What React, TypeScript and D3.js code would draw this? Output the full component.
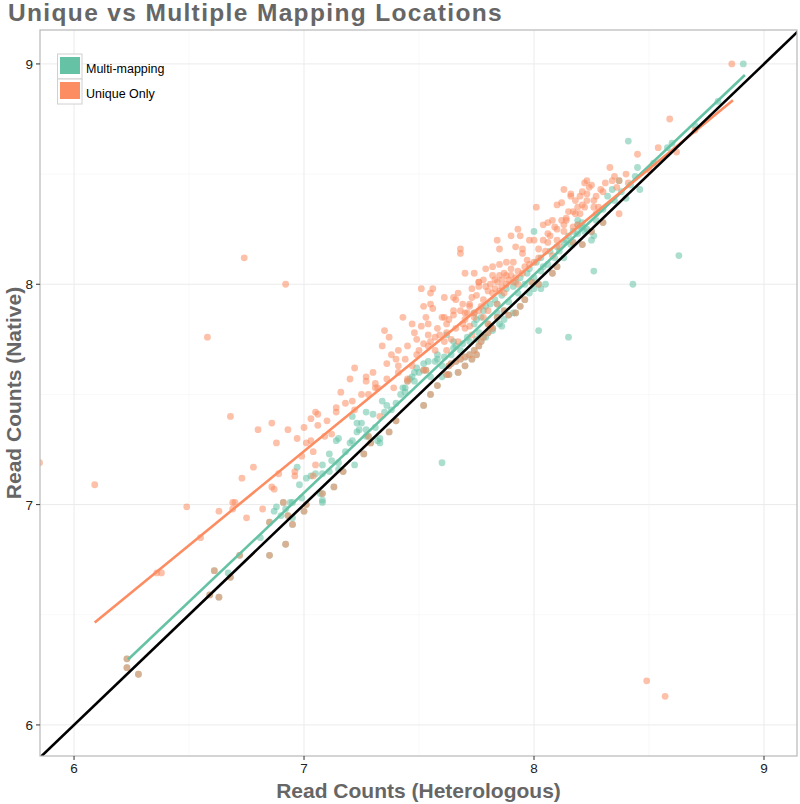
import React from "react";
import * as d3 from "d3";

type P = [number, number];

// Unique-only reads (orange)
const uniquePts: P[] = [
  [5.85,7.19],[6.09,7.09],[6.58,7.76],[6.74,8.12],[6.92,8.00],[8.49,6.20],[8.57,6.13],
  [6.68,7.40],[6.86,7.37],[6.80,7.34],[6.93,7.34],[6.97,7.30],[6.88,7.28],[6.78,7.17],[6.73,7.12],[6.89,7.14],[6.96,7.15],[6.96,7.13],[6.86,7.08],[6.87,7.07],[6.49,6.99],[6.69,7.01],[6.70,7.01],[6.63,6.97],[6.69,6.98],[6.82,6.98],[6.75,6.94],[6.55,6.85],[6.36,6.69],[6.38,6.69],
  [7.05,7.42],[7.06,7.41],[7.03,7.39],[7.06,7.36],[7.14,7.42],[7.12,7.32],[7.09,7.31],[7.01,7.28],[7.03,7.29],[7.04,7.24],[7.05,7.18],[7.04,7.13],
  [7.52,7.90],[7.55,7.91],[7.56,7.89],[7.65,7.88],[7.65,7.86],[7.43,7.85],[7.53,7.85],[7.60,7.85],[7.47,7.82],[7.51,7.81],[7.54,7.82],[7.62,7.82],[7.35,7.79],[7.37,7.76],[7.48,7.78],[7.49,7.75],[7.54,7.77],[7.57,7.76],[7.59,7.77],[7.64,7.75],[7.34,7.72],[7.52,7.73],[7.54,7.72],[7.41,7.70],[7.49,7.68],[7.40,7.66],[7.44,7.66],[7.36,7.64],[7.41,7.63],[7.41,7.60],[7.22,7.62],[7.20,7.57],[7.27,7.58],[7.27,7.56],[7.31,7.55],[7.36,7.57],[7.45,7.57],[7.31,7.53],[7.32,7.53],[7.16,7.51],[7.28,7.50],[7.21,7.47],[7.22,7.43],[7.14,7.44],[7.33,7.40],
  [7.51,7.98],[7.55,7.96],[7.56,7.98],[7.61,7.94],[7.65,7.94],[7.67,7.96],[7.66,7.93],[7.73,7.98],[7.73,7.94],[7.76,8.01],[7.76,7.99],[7.69,7.91],[7.72,7.90],[7.70,7.87],[7.76,7.88],[7.61,7.85],[7.62,7.78],[7.61,7.74],
  [8.22,8.46],[8.13,8.43],[8.21,8.42],[8.23,8.41],[8.16,8.41],[8.16,8.40],[8.12,8.37],[8.10,8.36],[8.19,8.35],[8.21,8.36],[8.22,8.35],[8.17,8.33],[8.01,8.35],[8.06,8.28],[8.08,8.29],[8.12,8.29],[8.14,8.30],[8.04,8.27],[8.09,8.26],[8.06,8.23],[7.93,8.25],[7.90,8.22],[7.84,8.20],[7.85,8.16],[7.94,8.22],[7.98,8.20],[8.00,8.20],[8.06,8.19],[8.11,8.17],[7.68,8.16],[7.68,8.14],[7.92,8.17],[7.95,8.16],[7.95,8.14],[7.88,8.10],[7.91,8.10],[7.97,8.11],[7.85,8.09],[7.82,8.08],[7.79,8.07],[7.74,8.05],[7.70,8.05],[7.82,8.04],[7.87,8.05],[7.90,8.07],[7.90,8.04],[7.86,8.02],[7.84,8.01],[7.88,8.00],[7.78,8.02],[7.76,8.01],[7.72,7.91],[7.77,7.90],[7.71,7.87],[7.69,7.82],[7.74,7.85],[7.72,7.81],
  [8.59,8.75],[8.54,8.62],[8.45,8.59],[8.33,8.53],[8.35,8.49],[8.34,8.47],[8.23,8.47],[8.25,8.45],[8.29,8.43],[8.30,8.42],[8.23,8.38],[8.26,8.38],[8.26,8.35],[8.28,8.35],[8.18,8.32],[8.20,8.32],[8.27,8.32],[8.37,8.32],[8.14,8.29],[8.17,8.26],[8.13,8.24],[8.41,8.46],
  [8.86,9.00],[8.50,8.52],[8.62,8.60],[8.70,8.70],
  [7.80,7.97],[7.83,7.98],[7.86,7.99],[7.89,8.02],[7.92,8.03],[7.81,8.00],[7.85,8.04],[7.93,8.06],[7.96,8.08],
  [7.66,7.80],[7.70,7.84],[7.78,7.93],[7.80,7.88],
  [8.02,8.12],[8.05,8.15],[8.08,8.13],[8.10,8.20],[8.00,8.10],
  [7.45,7.72],[7.50,7.70],[7.55,7.74],[7.58,7.80],[7.63,7.84],[7.68,7.88],[7.75,7.95],[7.79,7.99],[7.82,7.96],[7.85,7.97],[7.87,7.96],[7.83,8.02],[7.88,8.04],[7.91,8.01],[7.93,8.00],[7.95,8.05],[7.98,8.09],[8.02,8.16],[8.04,8.20],[8.07,8.22],[8.10,8.25],[8.13,8.27],[8.15,8.33],[8.18,8.38],[8.20,8.40],[8.24,8.44],[8.27,8.40],[8.31,8.46],[8.36,8.44],[8.40,8.50],
  [7.38,7.68],[7.30,7.60],[7.25,7.50],[7.18,7.46],[7.10,7.38],[7.00,7.35],[6.99,7.22],[7.39,7.53],[7.47,7.63],[7.57,7.70],[7.70,7.80],[7.73,7.77],[7.78,7.85],[7.80,7.82],[7.67,7.74],[7.62,7.70]
];

// Multi-mapping reads (teal)
const multiPts: P[] = [
  [6.97,7.17],[6.98,7.09],[6.88,6.99],[6.87,6.97],[6.94,7.01],[6.92,6.98],[6.81,6.85],[6.67,6.69],
  [7.14,7.29],[7.01,7.12],[7.03,7.13],[7.08,7.14],[7.11,7.15],[7.15,7.16],[7.08,7.01],
  [7.62,7.77],[7.65,7.74],[7.66,7.72],[7.58,7.68],[7.58,7.66],[7.57,7.65],[7.52,7.64],[7.49,7.62],[7.48,7.60],[7.60,7.58],[7.47,7.58],[7.48,7.56],[7.43,7.53],[7.44,7.53],[7.44,7.51],[7.42,7.50],[7.34,7.47],[7.38,7.43],[7.35,7.42],[7.27,7.42],[7.30,7.41],[7.21,7.40],[7.25,7.37],[7.23,7.37],[7.27,7.34],[7.24,7.34],[7.23,7.33],[7.15,7.30],[7.21,7.29],[7.20,7.28],[7.33,7.30],[7.32,7.29],[7.27,7.31],
  [8.02,7.79],[8.00,7.98],[8.03,7.98],[8.05,8.00],[7.86,7.81],[7.82,7.79],[7.79,7.76],[7.75,7.75],[7.71,7.76],[7.69,7.73],[7.65,7.71],[7.61,7.67],[7.54,7.65],[7.50,7.60],[7.46,7.57],[7.60,7.19],[7.11,7.23],[7.08,7.18],[7.05,7.14],[7.07,7.05],[7.08,7.02],[6.95,7.01],[6.95,6.94],[7.22,7.18],[7.15,7.19],[7.33,7.28],
  [8.00,8.24],[8.19,8.29],[8.21,8.28],[8.20,8.26],[8.23,8.25],[8.17,8.24],[8.15,8.22],[8.13,8.19],[8.10,8.17],[8.13,8.12],[8.07,8.15],[8.03,8.12],[8.01,8.10],[7.98,8.07],[7.97,8.05],[7.94,8.03],[7.92,8.01],[7.91,7.99],[7.88,7.98],[7.98,7.96],[7.86,7.95],[7.83,7.93],[7.81,7.91],[7.79,7.90],[7.78,7.88],[7.77,7.85],[7.75,7.84],[7.74,7.82],[7.87,7.84],[7.85,7.82],[7.91,7.87],[8.04,8.08],
  [8.41,8.65],[8.63,8.13],[8.43,8.00],[8.26,8.06],[8.15,7.76],[8.46,8.43],[8.45,8.53],[8.26,8.22],[8.25,8.20],
  [8.58,8.62],[8.44,8.49],[8.34,8.43],[8.32,8.40],[8.40,8.39],[8.21,8.26],[8.19,8.23],[8.14,8.20],
  [8.91,9.00],[8.52,8.55],[8.60,8.64],[8.70,8.72],[8.80,8.83],
  [7.55,7.58],[7.60,7.63],[7.64,7.68],[7.68,7.70],[7.72,7.74],[7.76,7.78],[7.80,7.82],[7.84,7.87],[7.89,7.92],[7.93,7.96],[7.96,8.00],[8.00,8.03],[8.03,8.06],[8.06,8.09],[8.09,8.12],[8.11,8.15],[8.16,8.18],[8.22,8.24],[8.27,8.29],[8.30,8.34],[8.35,8.38],[8.38,8.42],[8.42,8.45],[7.40,7.46],[7.36,7.45],[7.31,7.35],[7.18,7.24],[7.12,7.20],[6.99,7.03],[6.90,6.95]
];

// Genes present in both sets at the same position
const sharedPts: P[] = [
  [6.91,7.01],[6.85,6.92],[6.93,6.95],[6.95,6.91],[6.92,6.82],[6.85,6.77],[6.72,6.77],[6.61,6.70],[6.68,6.67],
  [6.23,6.30],[6.23,6.26],[6.28,6.23],[6.59,6.59],[6.63,6.58],
  [7.00,6.97],[7.01,7.00],[7.08,7.05],[7.13,7.08],
  [7.52,7.45],[7.58,7.54],[7.53,7.61],[7.63,7.59],[7.64,7.64],[7.45,7.56],[7.37,7.33],[7.29,7.28],[7.26,7.23],[7.28,7.31],
  [7.66,7.65],[7.68,7.66],[7.70,7.67],[7.72,7.68],[7.74,7.70],[7.73,7.66],[7.76,7.72],[7.77,7.74],[7.63,7.63],[7.62,7.59],[7.17,7.15],[7.81,7.81],[7.84,7.85],[7.87,7.88],[7.92,7.87],[7.94,7.90],[7.52,7.61],
  [8.17,8.19],[8.21,8.18],[8.08,8.05],[7.99,8.01],[7.74,7.87],[7.84,7.91],
  [8.37,8.47],[8.19,8.27],
  [7.78,7.76],[7.80,7.78],[7.70,7.63],[7.75,7.68],[7.67,7.60],[7.82,7.80],[7.89,7.86],[7.96,7.93],[8.02,8.00],[8.10,8.08],[8.25,8.24],[8.30,8.28],[7.55,7.50],[7.40,7.38]
];

// Linear fit endpoints
const uniqueFit: P[] = [[6.09, 6.465], [8.865, 8.835]];
const multiFit: P[] = [[6.235, 6.297], [8.917, 8.95]];

const ticks = [6, 7, 8, 9];
const minorTicks = [5.5, 6.5, 7.5, 8.5, 9.5];

const seriesNames = ["Multi-mapping", "Unique Only"];
const seriesColors = ["#66c2a5", "#fc8d62"];

export default function App() {
  const W = 800, H = 804;
  const L = 40, R = 797, T = 30, B = 756;
  const x = d3.scaleLinear().domain([5.852, 9.1435]).range([L, R]);
  const y = d3.scaleLinear().domain([5.859, 9.154]).range([B, T]);
  const line = d3.line<P>().x(d => x(d[0])).y(d => y(d[1]));
  const font = "'Liberation Sans', Arial, Helvetica, sans-serif";

  const tealPts = [...multiPts, ...sharedPts];
  const orangePts = [...uniquePts, ...sharedPts];

  return (
    <svg width={W} height={H} style={{ position: "absolute", left: 0, top: 0, background: "#fff" }} fontFamily={font}>
      <defs>
        <clipPath id="panel">
          <rect x={L} y={T} width={R - L} height={B - T} />
        </clipPath>
      </defs>
      <rect x={0} y={0} width={W} height={H} fill="#fff" />
      <g>
        {minorTicks.map(t => (
          <g key={"m" + t}>
            {x(t) > L && x(t) < R && <line x1={x(t)} x2={x(t)} y1={T} y2={B} stroke="#f4f4f4" strokeWidth={0.6} />}
            {y(t) > T && y(t) < B && <line x1={L} x2={R} y1={y(t)} y2={y(t)} stroke="#f4f4f4" strokeWidth={0.6} />}
          </g>
        ))}
        {ticks.map(t => (
          <g key={"M" + t}>
            <line x1={x(t)} x2={x(t)} y1={T} y2={B} stroke="#ebebeb" strokeWidth={1} />
            <line x1={L} x2={R} y1={y(t)} y2={y(t)} stroke="#ebebeb" strokeWidth={1} />
          </g>
        ))}
      </g>
      <g clipPath="url(#panel)">
        {tealPts.map((d, i) => (
          <circle key={"t" + i} cx={x(d[0])} cy={y(d[1])} r={3.4} fill={seriesColors[0]} fillOpacity={0.55} />
        ))}
        {orangePts.map((d, i) => (
          <circle key={"o" + i} cx={x(d[0])} cy={y(d[1])} r={3.4} fill={seriesColors[1]} fillOpacity={0.55} />
        ))}
        <path d={line(multiFit) || ""} stroke={seriesColors[0]} strokeWidth={2.6} fill="none" />
        <path d={line(uniqueFit) || ""} stroke={seriesColors[1]} strokeWidth={2.6} fill="none" />
        <path d={line([[5.8, 5.8], [9.2, 9.2]]) || ""} stroke="#000" strokeWidth={2.6} fill="none" />
      </g>
      <rect x={L} y={T} width={R - L} height={B - T} fill="none" stroke="#b8b8b8" strokeWidth={1.2} />
      {ticks.map(t => (
        <g key={"xt" + t}>
          <line x1={x(t)} x2={x(t)} y1={B} y2={B + 4} stroke="#333" strokeWidth={1} />
          <text x={x(t)} y={B + 17} textAnchor="middle" fontSize={13.5} fill="#222">{t}</text>
          <line x1={L - 4} x2={L} y1={y(t)} y2={y(t)} stroke="#333" strokeWidth={1} />
          <text x={L - 7} y={y(t) + 5} textAnchor="end" fontSize={13.5} fill="#222">{t}</text>
        </g>
      ))}
      <text x={(L + R) / 2} y={798} textAnchor="middle" fontSize={21} fontWeight="bold" fill="#666">Read Counts (Heterologous)</text>
      <text transform={`translate(21, ${(T + B) / 2}) rotate(-90)`} textAnchor="middle" fontSize={21} fontWeight="bold" fill="#666">Read Counts (Native)</text>
      <text x={8} y={21} fontSize={24.5} fontWeight="bold" fill="#666" letterSpacing={1.35}>Unique vs Multiple Mapping Locations</text>
      {seriesNames.map((n, i) => (
        <g key={n}>
          <rect x={57.5} y={54 + i * 25} width={24.5} height={25} fill="#fff" stroke="#d0d0d0" strokeWidth={1} />
          <rect x={60} y={57 + i * 25} width={20} height={17} fill={seriesColors[i]} />
          <text x={86} y={72.5 + i * 25} fontSize={12.5} fill="#000">{n}</text>
        </g>
      ))}
    </svg>
  );
}
